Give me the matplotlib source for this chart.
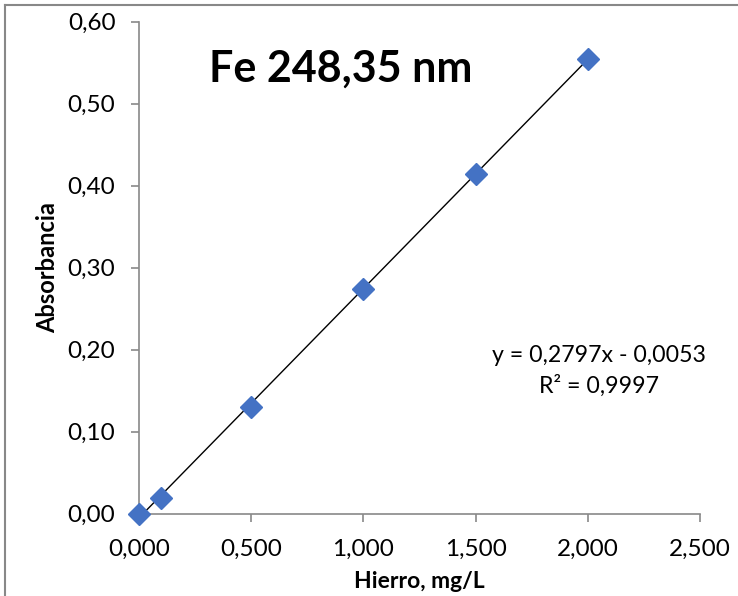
import numpy as np
import matplotlib
matplotlib.use("Agg")
import matplotlib.pyplot as plt
from matplotlib.lines import Line2D

plt.rcParams['font.family'] = ['Lato', 'DejaVu Sans']

# calibration data
conc = [0.0, 0.1, 0.5, 1.0, 1.5, 2.0]
absorb = [0.000, 0.019, 0.130, 0.274, 0.414, 0.555]
xticks = [0.0, 0.5, 1.0, 1.5, 2.0, 2.5]
yticks = [0.0, 0.1, 0.2, 0.3, 0.4, 0.5, 0.6]
slope, intercept = 0.2797, -0.0053

fig = plt.figure(figsize=(7.38, 5.96), dpi=100)
ax = fig.add_axes([139/738, 1 - 513.5/596, (700 - 139)/738, (513.5 - 21.7)/596])

xs = np.array([min(conc), max(conc)])
ax.plot(xs, slope * xs + intercept, color='black', lw=1, zorder=2)
ax.plot(conc, absorb, 'D', color='#4472C4', markersize=11.5, zorder=3, clip_on=False)

ax.set_xlim(0, 2.5)
ax.set_ylim(0, 0.6)
ax.set_xticks(xticks)
ax.set_yticks(yticks)
ax.set_xticklabels([f"{v:.3f}".replace('.', ',') for v in xticks])
ax.set_yticklabels([f"{v:.2f}".replace('.', ',') for v in yticks])

for s in ['top', 'right']:
    ax.spines[s].set_visible(False)
for s in ['left', 'bottom']:
    ax.spines[s].set_color('#898989')
    ax.spines[s].set_linewidth(1.2)
ax.tick_params(axis='both', direction='out', length=6, width=1.2, color='#898989',
               labelsize=17.5, labelcolor='black')
ax.tick_params(axis='y', pad=11)
ax.tick_params(axis='x', pad=12)

ax.set_xlabel('Hierro, mg/L', fontsize=16.5, fontweight='bold', labelpad=8)
ax.set_ylabel('Absorbancia', fontsize=17, fontweight='bold', labelpad=6)

ax.text(0.36, 0.905, 'Fe 248,35 nm', transform=ax.transAxes, ha='center', va='center',
        fontsize=31, fontweight='bold')
ax.text(0.82, 0.29, 'y = 0,2797x - 0,0053\nR² = 0,9997', transform=ax.transAxes,
        ha='center', va='center', fontsize=16.7, linespacing=1.45)

# chart border (top and left edges visible)
fig.add_artist(Line2D([5/738, 5/738], [0, 1 - 5/596], color='#888888', lw=1.5))
fig.add_artist(Line2D([5/738, 1], [1 - 5/596, 1 - 5/596], color='#888888', lw=1.5))

fig.savefig('out.png', dpi=100)
